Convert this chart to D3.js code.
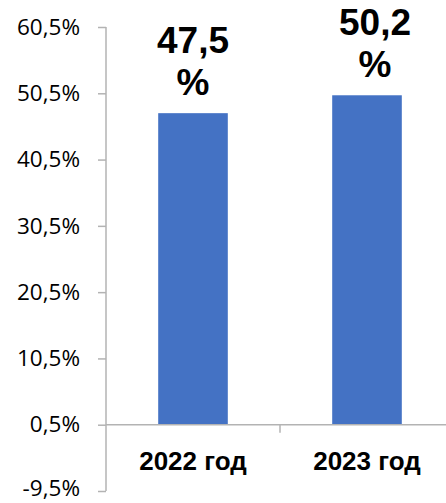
<!DOCTYPE html>
<html><head><meta charset="utf-8">
<script src="https://cdn.jsdelivr.net/npm/d3@7"></script>
<style>body{margin:0;background:#fff}</style>
</head><body>
<svg id="c" width="446" height="503"></svg>
<script>
const categories = ["2022 год", "2023 год"];
const values = [47.5, 50.2];
const valueLabels = ["47,5", "50,2"];
const yTicks = [-9.5, 0.5, 10.5, 20.5, 30.5, 40.5, 50.5, 60.5];

const svg = d3.select("#c");
const y = d3.scaleLinear().domain([-9.5, 60.5]).range([491, 27]);
const x = d3.scaleBand().domain(categories).range([106, 454]).paddingInner(0.6).paddingOuter(0.3);
const base = 0.5;
const fmt = v => String(v).replace(".", ",") + "%";

// y axis
const ya = svg.append("g").attr("transform", "translate(106,0)")
  .call(d3.axisLeft(y).tickValues(yTicks).tickFormat(fmt).tickSize(8).tickPadding(18));
ya.select(".domain").attr("stroke", "#b3b3b3").attr("stroke-width", 1.5).attr("d", `M0,${y(-9.5)}V${y(60.5)}`);
ya.selectAll(".tick line").attr("stroke", "#b3b3b3").attr("stroke-width", 1.5);
ya.selectAll(".tick text").attr("font-family", "Open Sans").attr("font-size", 22.5).attr("fill", "#000")
  .attr("dy", d => d === yTicks[0] ? "0.2em" : "0.32em");

// bars
svg.selectAll("rect.bar").data(values).join("rect").attr("class", "bar")
  .attr("x", (d, i) => x(categories[i]))
  .attr("width", x.bandwidth())
  .attr("y", d => y(d))
  .attr("height", d => y(base) - y(d))
  .attr("fill", "#4472C4");

// x axis at 0.5
const xa = svg.append("g").attr("transform", `translate(0,${y(base)})`)
  .call(d3.axisBottom(x).tickSize(0).tickPadding(0));
xa.select(".domain").remove();
xa.selectAll(".tick").remove();
xa.append("line").attr("x1", 106).attr("x2", 446).attr("stroke", "#b3b3b3").attr("stroke-width", 1.5);
xa.append("line").attr("x1", 280).attr("x2", 280).attr("y1", 0).attr("y2", 8).attr("stroke", "#b3b3b3").attr("stroke-width", 1.5);

svg.selectAll("text.cat").data(categories).join("text").attr("class", "cat")
  .attr("x", d => x(d) + x.bandwidth() / 2)
  .attr("y", 470)
  .attr("text-anchor", "middle")
  .attr("font-family", "Liberation Sans, Arial")
  .attr("font-weight", "bold")
  .attr("font-size", 26)
  .text(d => d);

// value labels
const dx = [0, 8];
const lab = svg.selectAll("g.lab").data(values).join("g").attr("class", "lab")
  .attr("transform", (d, i) => `translate(${x(categories[i]) + x.bandwidth() / 2 + dx[i]},${y(d)})`);
lab.append("text").attr("y", -60).attr("text-anchor", "middle")
  .attr("font-family", "Liberation Sans, Arial").attr("font-weight", "bold").attr("font-size", 37)
  .text((d, i) => valueLabels[i]);
lab.append("text").attr("y", -18).attr("text-anchor", "middle")
  .attr("font-family", "Liberation Sans, Arial").attr("font-weight", "bold").attr("font-size", 37)
  .text("%");
</script>
</body></html>
